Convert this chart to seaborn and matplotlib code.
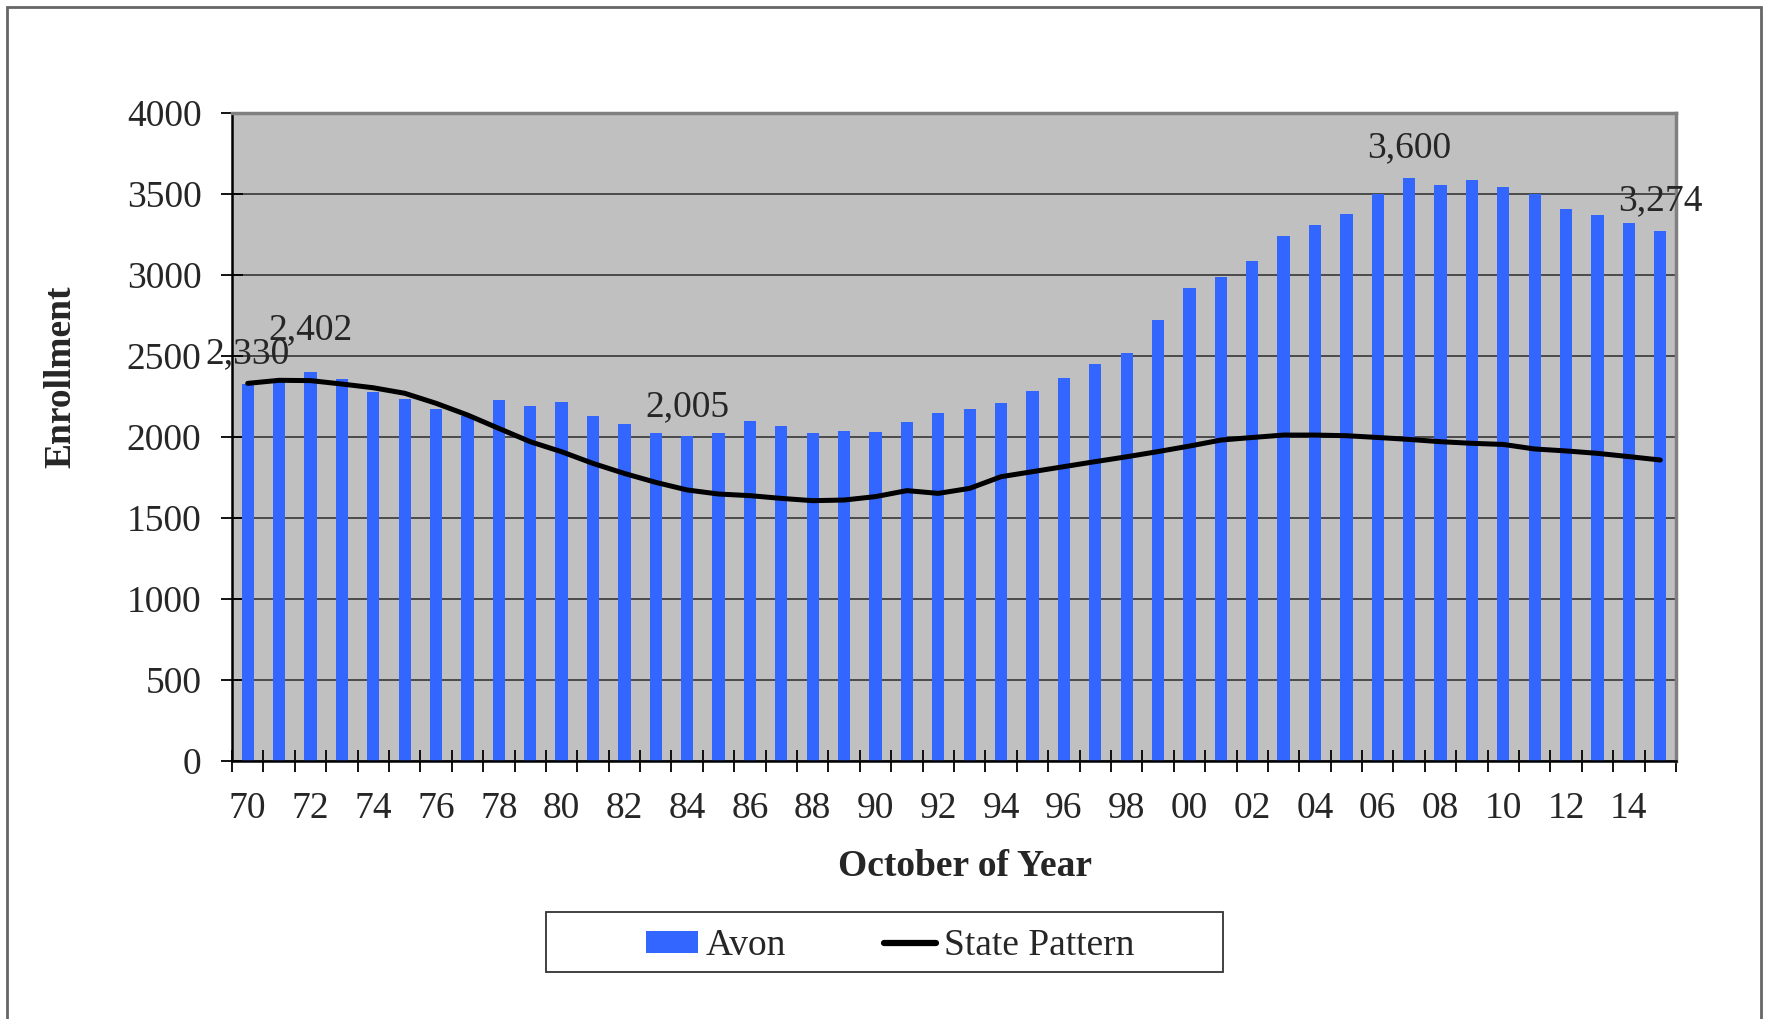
import numpy as np
import pandas as pd
import matplotlib
matplotlib.use('Agg')
import matplotlib.pyplot as plt
import seaborn as sns
from matplotlib.patches import Rectangle, Patch
from matplotlib.lines import Line2D

years = list(range(1970, 2016))
avon = [2330, 2350, 2402, 2356, 2280, 2237, 2173, 2130, 2228, 2193,
        2218, 2130, 2078, 2023, 2005, 2023, 2097, 2068, 2023, 2035,
        2031, 2093, 2146, 2171, 2208, 2284, 2362, 2449, 2518, 2722,
        2917, 2990, 3088, 3238, 3309, 3377, 3502, 3600, 3556, 3584,
        3545, 3500, 3405, 3368, 3319, 3274]
state = [2331, 2350, 2348, 2327, 2304, 2270, 2208, 2136, 2053, 1971,
         1909, 1837, 1775, 1720, 1673, 1648, 1638, 1621, 1607, 1611,
         1632, 1669, 1652, 1683, 1755, 1786, 1817, 1848, 1878, 1910,
         1944, 1981, 1997, 2012, 2012, 2008, 1997, 1985, 1971, 1961,
         1954, 1926, 1914, 1899, 1879, 1858]
label_years = [1970, 1972, 1984, 2007, 2015]
yticks = [0, 500, 1000, 1500, 2000, 2500, 3000, 3500, 4000]

df = pd.DataFrame({'year': years, 'avon': avon, 'state': state})

sns.set_style('white')
plt.rcParams['font.family'] = ['Liberation Serif', 'DejaVu Serif']
FS = 27

W, H = 1766, 1019
fig = plt.figure(figsize=(W / 100, H / 100), dpi=100)
ax = fig.add_axes([232 / W, 1 - 761 / H, 1444 / W, 648 / H])
ax.set_facecolor('#C0C0C0')
ax.set_axisbelow(True)

sns.barplot(data=df, x='year', y='avon', native_scale=True, color='#3366FF',
            saturation=1, width=0.39, ax=ax, zorder=2, edgecolor='none', linewidth=0)
sns.lineplot(data=df, x='year', y='state', color='black', lw=3.6, ax=ax,
             legend=False, zorder=3, solid_capstyle='round')

# data labels
for yr in label_years:
    v = avon[years.index(yr)]
    off = 23.5 if yr == 1972 else 14.5
    ax.annotate(f'{v:,}', (yr, v), xytext=(0, off), textcoords='offset points',
                ha='center', va='baseline', fontsize=FS, zorder=4)

ax.set_xlim(years[0] - 0.5, years[-1] + 0.5)
ax.set_ylim(0, 4000)
ax.set_yticks(yticks)
ax.set_yticklabels([str(t) for t in yticks])
ax.yaxis.grid(True, color='#4a4a4a', lw=1.4)
ax.xaxis.grid(False)

ax.set_xticks(np.arange(years[0] - 0.5, years[-1] + 1, 1))
ax.set_xticklabels([])
even = [y for y in years if y % 2 == 0]
ax.set_xticks(even, minor=True)
ax.set_xticklabels([f'{y % 100:02d}' for y in even], minor=True)
ax.tick_params(axis='x', which='major', direction='inout', length=16, width=1.3,
               color='black', bottom=True)
ax.tick_params(axis='x', which='minor', length=0, pad=22, labelsize=FS, bottom=True)
ax.tick_params(axis='y', direction='inout', length=16, width=1.3, color='black',
               pad=14, labelsize=FS, left=True)
ax.set_xlabel('')
ax.set_ylabel('')

for s in ['left', 'bottom']:
    ax.spines[s].set_color('black')
    ax.spines[s].set_linewidth(1.8)
for s in ['top', 'right']:
    ax.spines[s].set_color('#808080')
    ax.spines[s].set_linewidth(2.5)

fig.text(60.5 / W, 1 - 377 / H, 'Enrollment', rotation=90, ha='center', va='center',
         fontsize=FS, fontweight='bold')
fig.text(965 / W, 1 - 866 / H, 'October of Year', ha='center', va='center',
         fontsize=FS, fontweight='bold')

# legend
fig.patches.append(Rectangle((546 / W, 1 - 972 / H), 677 / W, 60 / H,
                             transform=fig.transFigure, facecolor='white',
                             edgecolor='#333333', lw=1.3))
handles = [Patch(facecolor='#3366FF', edgecolor='none'),
           Line2D([0], [0], color='black', lw=4.5, solid_capstyle='round')]
fig.legend(handles, ['Avon', 'State Pattern'], loc='center',
           bbox_to_anchor=(890 / W, 1 - 946 / H), ncol=2, frameon=False,
           fontsize=FS, handlelength=1.4, handleheight=0.5, handletextpad=0.2,
           columnspacing=2.6, borderpad=0)

# outer chart border
fig.patches.append(Rectangle((7 / W, -0.05), (1761 - 7) / W, 1.05 - 7 / H,
                             transform=fig.transFigure, fill=False,
                             edgecolor='#666666', lw=2))

fig.savefig('out.png', dpi=100, facecolor='white')
